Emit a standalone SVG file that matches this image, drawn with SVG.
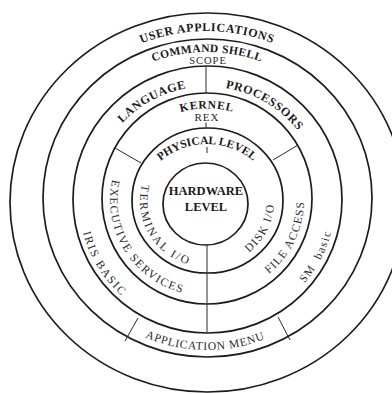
<svg xmlns="http://www.w3.org/2000/svg" width="392" height="394" viewBox="0 0 392 394">
<style>
.ring{fill:none;stroke:#1c1c1c;stroke-width:1.7}
.div{fill:none;stroke:#2a2a2a;stroke-width:1}
.b{font-family:"Liberation Serif",serif;font-weight:bold;font-size:12px;fill:#1a1a1a}
.r{font-family:"Liberation Serif",serif;font-size:11.5px;fill:#2a2a2a;letter-spacing:1px}
</style>
<defs>
<path id="pUser" d="M 31 202 A 176 171 0 0 1 383 202"/>
<path id="pCmd" d="M 55 200 A 152 148 0 0 1 359 200"/>
<path id="pLang" d="M 92 200 A 115 113.5 0 0 1 322 200"/>
<path id="pKern" d="M 107 208.5 A 100 100 0 0 1 307 208.5"/>
<path id="pPhys" d="M 135 216 A 72 72 0 0 1 279 216"/>
<path id="pLIn" d="M 207 135 A 67 66 0 0 0 207 267"/>
<path id="pRIn" d="M 207 267 A 67 66 0 0 0 207 135"/>
<path id="pLMid" d="M 207 104 A 97 96 0 0 0 207 296"/>
<path id="pRMid" d="M 207 296 A 97 96 0 0 0 207 104"/>
<path id="pLOut" d="M 207 74 A 128 127 0 0 0 207 328"/>
<path id="pROut" d="M 207 328 A 128 127 0 0 0 207 74"/>
<path id="pApp" d="M 54 200 A 153 150 0 0 0 360 200"/>
</defs>
<rect width="392" height="394" fill="#fff"/>

<g id="user-applications">
<ellipse class="ring" cx="207.5" cy="202.5" rx="197.5" ry="189.5"/>
<text class="b" style="letter-spacing:0.6px"><textPath href="#pUser" startOffset="50%" text-anchor="middle">USER APPLICATIONS</textPath></text>
</g>

<g id="command-shell">
<ellipse class="ring" cx="207.5" cy="198" rx="164.5" ry="159"/>
<text class="b" style="letter-spacing:0.4px;font-size:11.5px"><textPath href="#pCmd" startOffset="50%" text-anchor="middle">COMMAND SHELL</textPath></text>
<text class="r" x="208" y="64" text-anchor="middle" style="font-size:10.5px">SCOPE</text>
</g>

<g id="application-menu">
<text class="r" style="letter-spacing:0.8px"><textPath href="#pApp" startOffset="49.6%" text-anchor="middle">APPLICATION MENU</textPath></text>
</g>

<g id="language-processors">
<ellipse class="ring" cx="207.5" cy="199.5" rx="134.5" ry="133.5"/>
<text class="b" style="letter-spacing:0.6px"><textPath href="#pLang" startOffset="33.9%" text-anchor="middle">LANGUAGE</textPath></text>
<text class="b" style="letter-spacing:0.6px"><textPath href="#pLang" startOffset="67.2%" text-anchor="middle">PROCESSORS</textPath></text>
<text class="r" style="letter-spacing:1.8px"><textPath href="#pLOut" startOffset="67.5%" text-anchor="middle">IRIS BASIC</textPath></text>
<text class="r" style="letter-spacing:1.5px;word-spacing:4px"><textPath href="#pROut" startOffset="35%" text-anchor="middle">SM basic</textPath></text>
</g>

<g id="kernel">
<ellipse class="ring" cx="207" cy="198.5" rx="105" ry="105.5"/>
<text class="b" style="letter-spacing:0.8px;font-size:11.5px"><textPath href="#pKern" startOffset="50%" text-anchor="middle">KERNEL</textPath></text>
<text class="r" x="207" y="121" text-anchor="middle" style="font-size:11px">REX</text>
<text class="r" style="letter-spacing:1.5px"><textPath href="#pLMid" startOffset="67.6%" text-anchor="middle">EXECUTIVE SERVICES</textPath></text>
<text class="r" style="letter-spacing:1.2px"><textPath href="#pRMid" startOffset="35.8%" text-anchor="middle">FILE ACCESS</textPath></text>
</g>

<g id="physical-level">
<ellipse class="ring" cx="207.5" cy="200.5" rx="75.5" ry="72.5"/>
<text class="b" style="font-size:11.5px"><textPath href="#pPhys" startOffset="50%" text-anchor="middle">PHYSICAL LEVEL</textPath></text>
<text class="r" style="letter-spacing:2.2px"><textPath href="#pLIn" startOffset="66.8%" text-anchor="middle">TERMINAL I/O</textPath></text>
<text class="r" style="letter-spacing:1.4px"><textPath href="#pRIn" startOffset="35.1%" text-anchor="middle">DISK I/O</textPath></text>
</g>

<g id="hardware-level">
<ellipse class="ring" cx="205.5" cy="204" rx="42.5" ry="41"/>
<text class="b" x="206" y="195" text-anchor="middle" style="font-size:12.5px">HARDWARE</text>
<text class="b" x="206" y="211" text-anchor="middle" style="font-size:12.5px">LEVEL</text>
</g>

<g id="connectors">
<path class="div" d="M 206 66 V 93"/>
<path class="div" d="M 206 122.5 V 128"/>
<path class="div" d="M 207 147 V 153"/>
<path class="div" d="M 115 148 L 141 163"/>
<path class="div" d="M 298 145 L 273 160"/>
<path class="div" d="M 207 245 V 333"/>
<path class="div" d="M 138 318 L 125 341"/>
<path class="div" d="M 278 317 L 290 340"/>
</g>
</svg>
